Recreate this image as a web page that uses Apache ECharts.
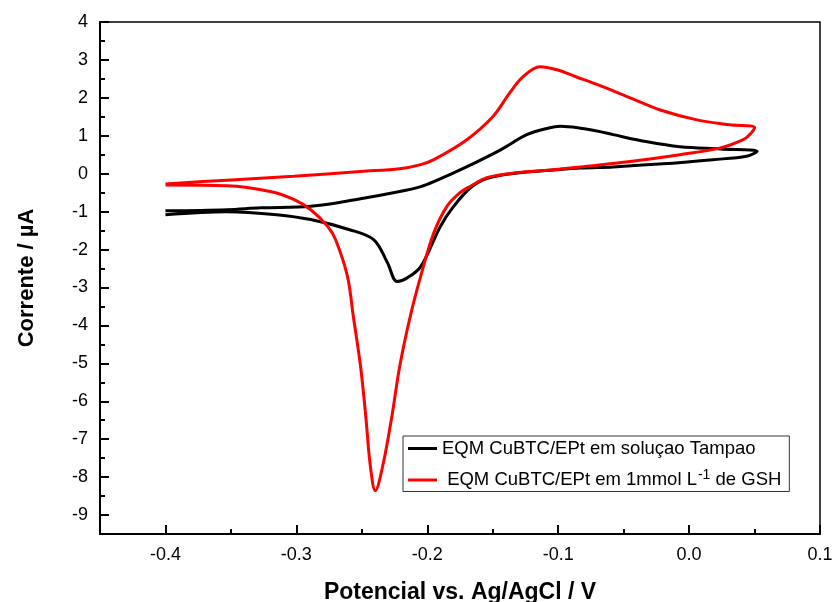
<!DOCTYPE html>
<html>
<head>
<meta charset="utf-8">
<script src="https://cdn.jsdelivr.net/npm/echarts@6/dist/echarts.min.js"></script>
<style>
  html, body { margin: 0; padding: 0; background: #fff; }
  #chart { width: 834px; height: 602px; }
</style>
</head>
<body>
<div id="chart"></div>
<script>
// Cyclic voltammograms: potential (V vs. Ag/AgCl) and current (µA), in sweep order
const tampaoE = [-0.400, -0.353, -0.327, -0.289, -0.251, -0.221, -0.205, -0.195, -0.170, -0.144,
                 -0.124, -0.108, -0.098, -0.083, -0.068, -0.058, -0.032, -0.007, 0.024, 0.052,
                 0.044, 0.018, -0.020, -0.058, -0.083, -0.106, -0.131, -0.154, -0.167, -0.180,
                 -0.190, -0.205, -0.215, -0.223, -0.2305, -0.241, -0.260, -0.289, -0.315, -0.353, -0.400];
const tampaoI = [-0.98, -0.95, -0.90, -0.86, -0.66, -0.47, -0.34, -0.21, 0.18, 0.63,
                 1.03, 1.20, 1.25, 1.20, 1.11, 1.03, 0.84, 0.71, 0.65, 0.59,
                 0.46, 0.37, 0.26, 0.18, 0.15, 0.09, 0.02, -0.12, -0.37, -0.87,
                 -1.39, -2.45, -2.74, -2.84, -2.34, -1.74, -1.47, -1.21, -1.08, -1.00, -1.08];

const gshE = [-0.400, -0.353, -0.302, -0.251, -0.221, -0.205, -0.195, -0.170, -0.150, -0.137,
              -0.127, -0.114, -0.101, -0.086, -0.068, -0.045, -0.022, 0.006, 0.031, 0.050,
              0.046, 0.041, 0.024, -0.007, -0.045, -0.083, -0.106, -0.131, -0.154, -0.167,
              -0.175, -0.185, -0.195, -0.205, -0.213, -0.221, -0.227, -0.234, -0.2397, -0.2435,
              -0.247, -0.251, -0.2565, -0.261, -0.270, -0.276, -0.289, -0.302, -0.320, -0.353, -0.400];
const gshI = [-0.27, -0.17, -0.07, 0.06, 0.13, 0.24, 0.37, 0.89, 1.50, 2.13,
              2.55, 2.82, 2.74, 2.55, 2.32, 2.00, 1.68, 1.42, 1.29, 1.22,
              1.02, 0.89, 0.68, 0.50, 0.32, 0.18, 0.10, 0.03, -0.10, -0.33,
              -0.50, -0.86, -1.56, -2.70, -3.76, -5.07, -6.39, -7.70, -8.36, -7.70,
              -6.39, -5.07, -3.76, -2.70, -1.74, -1.39, -0.95, -0.68, -0.47, -0.32, -0.30];

// Axis ticks
const xMajor = [-0.4, -0.3, -0.2, -0.1, 0.0, 0.1];
const xMinor = [-0.35, -0.25, -0.15, -0.05, 0.05];
const yMajor = [-9, -8, -7, -6, -5, -4, -3, -2, -1, 0, 1, 2, 3, 4];
const yMinor = [-8.5, -7.5, -6.5, -5.5, -4.5, -3.5, -2.5, -1.5, -0.5, 0.5, 1.5, 2.5, 3.5];

const nameTampao = 'EQM CuBTC/EPt em soluçao Tampao';
const nameGsh = 'EQM CuBTC/EPt em 1mmol L-1 de GSH';

const zip = (a, b) => a.map((v, i) => [v, b[i]]);
const FONT = 'Arial, "Liberation Sans", Helvetica, sans-serif';
const gridBox = { left: 100, top: 22, right: 14, bottom: 68, outerBoundsMode: 'none', containLabel: false };
const xRange = { min: -0.45, max: 0.1 };
const yRange = { min: -9.5, max: 4 };

const chart = echarts.init(document.getElementById('chart'), null, { renderer: 'canvas' });
chart.setOption({
  animation: false,
  backgroundColor: '#fff',
  textStyle: { fontFamily: FONT },
  grid: [
    Object.assign({ show: true, borderColor: '#000', borderWidth: 1.5 }, gridBox),
    Object.assign({ show: false }, gridBox)
  ],
  xAxis: [
    Object.assign({
      type: 'value', gridIndex: 0, position: 'bottom',
      name: 'Potencial vs. Ag/AgCl / V', nameLocation: 'middle', nameGap: 47,
      nameTextStyle: { fontSize: 23, fontWeight: 'bold', color: '#000', fontFamily: FONT },
      axisLine: { show: true, onZero: false, lineStyle: { color: '#000', width: 2 } },
      axisTick: { show: true, inside: true, length: 9, lineStyle: { color: '#000', width: 2 }, customValues: xMajor },
      axisLabel: { customValues: xMajor, formatter: v => v.toFixed(1), fontSize: 18, color: '#000', margin: 12, fontFamily: FONT },
      splitLine: { show: false }
    }, xRange),
    Object.assign({
      type: 'value', gridIndex: 1, position: 'bottom',
      axisLine: { show: false, onZero: false },
      axisTick: { show: true, inside: true, length: 5, lineStyle: { color: '#000', width: 2 }, customValues: xMinor },
      axisLabel: { show: false },
      splitLine: { show: false }
    }, xRange)
  ],
  yAxis: [
    Object.assign({
      type: 'value', gridIndex: 0, position: 'left',
      name: 'Corrente / µA', nameLocation: 'middle', nameGap: 62, nameRotate: 90,
      nameTextStyle: { fontSize: 22, fontWeight: 'bold', color: '#000', fontFamily: FONT },
      axisLine: { show: true, onZero: false, lineStyle: { color: '#000', width: 2 } },
      axisTick: { show: true, inside: true, length: 9, lineStyle: { color: '#000', width: 2 }, customValues: yMajor },
      axisLabel: { customValues: yMajor, formatter: v => String(v), fontSize: 18, color: '#000', margin: 12, fontFamily: FONT },
      splitLine: { show: false }
    }, yRange),
    Object.assign({
      type: 'value', gridIndex: 1, position: 'left',
      axisLine: { show: false, onZero: false },
      axisTick: { show: true, inside: true, length: 5, lineStyle: { color: '#000', width: 2 }, customValues: yMinor },
      axisLabel: { show: false },
      splitLine: { show: false }
    }, yRange)
  ],
  legend: {
    orient: 'vertical', left: 403, top: 436,
    padding: [3, 8, 2, 5], itemGap: 10,
    itemWidth: 29, itemHeight: 3, icon: 'rect',
    borderColor: '#333', borderWidth: 1,
    data: [nameTampao, nameGsh],
    formatter: name => name === nameGsh
      ? '{t| EQM CuBTC/EPt em 1mmol L}{sup|-1}{t| de GSH}'
      : '{t|' + name + '}',
    textStyle: {
      fontSize: 18.5, color: '#000', fontFamily: FONT,
      rich: {
        t: { fontSize: 18.5, color: '#000', fontFamily: FONT },
        sup: { fontSize: 14, color: '#000', fontFamily: FONT, padding: [0, 0, 10, 1] }
      }
    }
  },
  series: [
    {
      name: nameTampao, type: 'line', xAxisIndex: 0, yAxisIndex: 0,
      data: zip(tampaoE, tampaoI), showSymbol: false, smooth: 0.35,
      lineStyle: { color: '#000', width: 3 }, itemStyle: { color: '#000' }
    },
    {
      name: nameGsh, type: 'line', xAxisIndex: 0, yAxisIndex: 0,
      data: zip(gshE, gshI), showSymbol: false, smooth: 0.35,
      lineStyle: { color: '#ff0000', width: 3 }, itemStyle: { color: '#ff0000' }
    }
  ]
});
</script>
</body>
</html>
